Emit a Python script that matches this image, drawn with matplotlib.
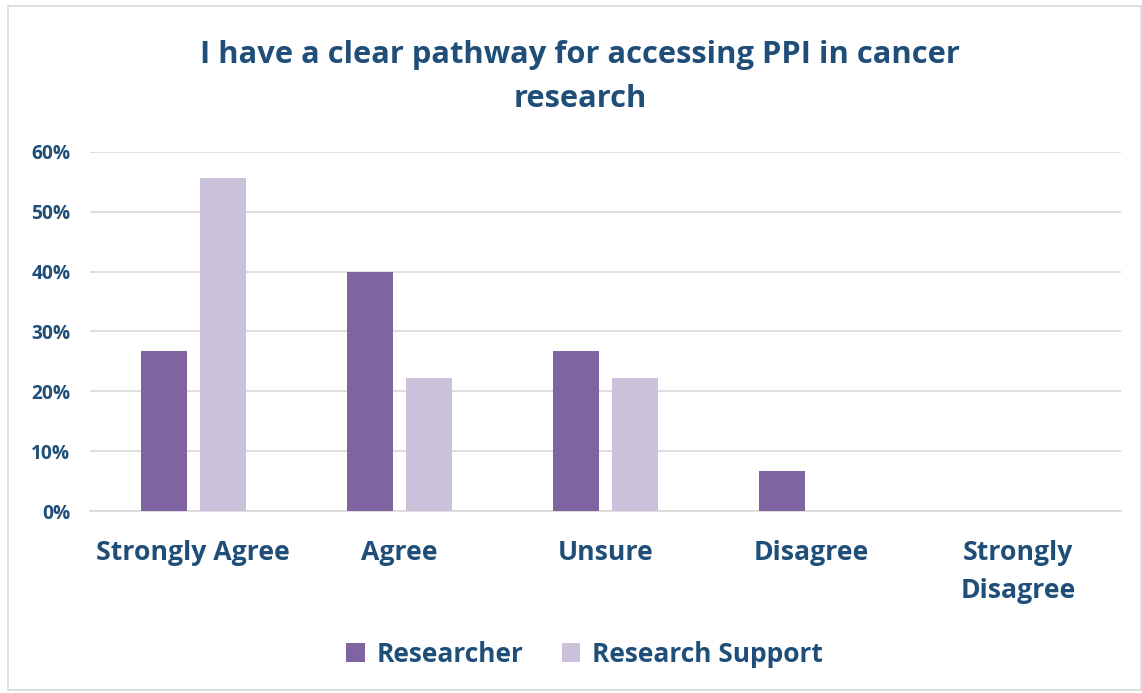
import numpy as np
import matplotlib
matplotlib.use('Agg')
from matplotlib import pyplot as plt
from matplotlib.patches import Rectangle

# * Data
categories = ['Strongly Agree', 'Agree', 'Unsure', 'Disagree', 'Strongly\nDisagree']
researcher = [0.267, 0.40, 0.267, 0.067, 0.0]
research_support = [0.556, 0.222, 0.222, 0.0, 0.0]
y_ticks = [0.0, 0.1, 0.2, 0.3, 0.4, 0.5, 0.6]
y_tick_labels = ['0%', '10%', '20%', '30%', '40%', '50%', '60%']

text_color = '#1F4E79'
dark_purple = '#8064A2'
light_purple = '#CCC1DA'

plt.rcParams['font.family'] = ['Open Sans', 'DejaVu Sans']
plt.rcParams['font.weight'] = 'bold'

fig = plt.figure(figsize=(11.42, 6.93), dpi=100)
ax = fig.add_axes([0.0788, 0.2626, 0.9028, 0.5181])

x = np.arange(len(categories))
width = 0.223
ax.bar(x - 0.143, researcher, width, color=dark_purple, label='Researcher', zorder=3)
ax.bar(x + 0.143, research_support, width, color=light_purple, label='Research Support', zorder=3)

ax.set_xlim(-0.5, 4.5)
ax.set_ylim(0, 0.6)
ax.set_yticks(y_ticks)
ax.set_yticklabels(y_tick_labels, fontsize=13.8, fontweight='bold', color=text_color)
ax.set_xticks(x)
ax.set_xticklabels(categories, fontsize=19.2, fontweight='bold', color=text_color, linespacing=1.6)
ax.tick_params(axis='both', length=0)
ax.tick_params(axis='x', pad=21)
ax.tick_params(axis='y', pad=14)
ax.yaxis.grid(True, color='#D9D9D9', linewidth=1.2, zorder=0)
for side in ['top', 'right', 'left']:
    ax.spines[side].set_visible(False)
ax.spines['bottom'].set_color('#D9D9D9')
ax.spines['bottom'].set_linewidth(1.2)

fig.text(0.508, 0.889, 'I have a clear pathway for accessing PPI in cancer\nresearch',
         ha='center', va='center', fontsize=22.2, fontweight='bold', color=text_color,
         linespacing=1.6)

fig.legend(loc='center', bbox_to_anchor=(0.512, 0.056), ncol=2, frameon=False,
           prop={'size': 19, 'weight': 'bold'}, labelcolor=text_color,
           handlelength=0.7, handleheight=0.7, handletextpad=0.45, columnspacing=1.45)

# light border round the chart
fig.patches.append(Rectangle((0.007, 0.004), 0.992, 0.988, transform=fig.transFigure,
                             fill=False, edgecolor='#D9D9D9', linewidth=1.2))

fig.savefig('out.png', dpi=100)
